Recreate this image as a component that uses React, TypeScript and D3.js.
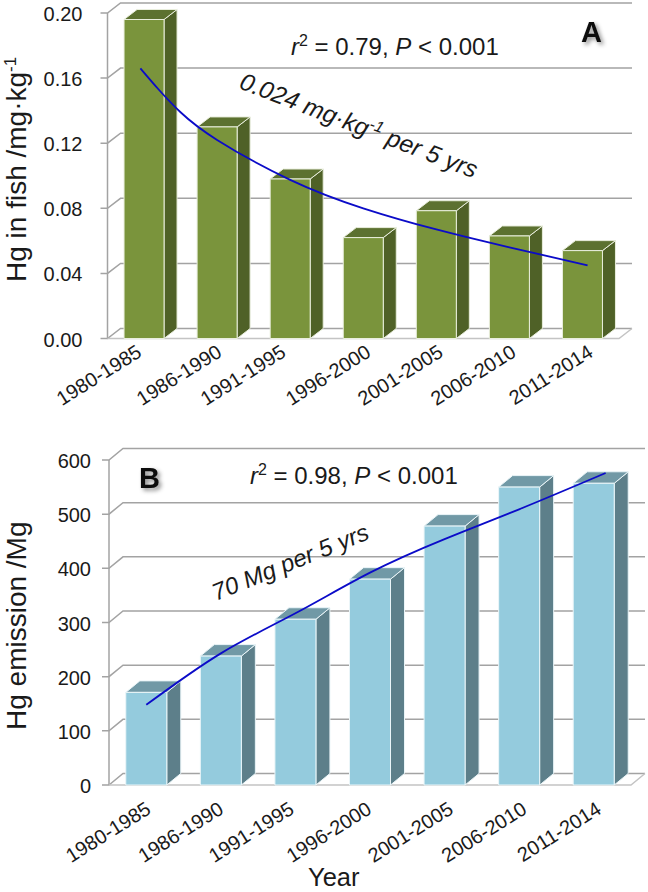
import React from 'react';
import * as d3 from 'd3';

const periods = ['1980-1985', '1986-1990', '1991-1995', '1996-2000', '2001-2005', '2006-2010', '2011-2014'];

const fishValues = [0.196, 0.13, 0.098, 0.062, 0.0785, 0.063, 0.054];
const fishTicks = [0, 0.04, 0.08, 0.12, 0.16, 0.2];
const fishTrendPos = [-0.05, 0.2, 0.5, 1, 2, 3, 4, 5, 6.07];
const fishTrend = [0.166, 0.153, 0.139, 0.122, 0.0975, 0.08, 0.067, 0.056, 0.045];

const emissionValues = [171, 238, 306, 380, 478, 550, 557];
const emissionTicks = [0, 100, 200, 300, 400, 500, 600];
const emissionTrendPos = [0, 1, 2, 3, 4, 5, 6.16];
const emissionTrend = [148, 243, 317, 392, 454, 509, 576];

// the tick labels in the figure were placed by hand, so they are not evenly spaced
const fishLabelShift = [-1, 6, -3, 9, 8, 8, 12];
const emissionLabelShift = [6, 4, 0, 3, 10, 9, 9];

const gridColor = '#a3a3a3';
const textColor = '#1a1a1a';
const font = '"Liberation Sans", Arial, sans-serif';

interface PanelProps {
  values: number[];
  ticks: number[];
  trendPos: number[];
  trend: number[];
  domainMax: number;
  tickFormat: (v: number) => string;
  left: number;
  right: number;
  top: number;
  bottom: number;
  depthX: number;
  depthY: number;
  barWidth: number;
  front: string;
  topFace: string;
  side: string;
  edge: string;
  tickGap: number;
  labelShift: number[];
  labelDy: number;
}

const Panel: React.FC<PanelProps> = ({
  values, ticks, trendPos, trend, domainMax, tickFormat,
  left, right, top, bottom, depthX, depthY, barWidth,
  front, topFace, side, edge, tickGap, labelShift, labelDy
}) => {
  const y = d3.scaleLinear().domain([0, domainMax]).range([bottom, top]);
  const x = d3.scaleBand<string>().domain(periods).range([left, right]);
  const center = (i: number) => x(periods[0])! + x.bandwidth() * (i + 0.5);

  const trendLine = d3.line<number>()
    .x((_, i) => center(trendPos[i]))
    .y(d => y(d))
    .curve(d3.curveNatural);

  return (
    <g>
      {/* walls and grid */}
      {ticks.map(t => (
        <g key={t} stroke={gridColor} strokeWidth={1.5} fill="none">
          <path d={`M${left - 7},${y(t)}H${left}L${left + depthX},${y(t) - depthY}H${right + depthX}`} />
        </g>
      ))}
      <line x1={left} x2={left} y1={top} y2={bottom} stroke={gridColor} strokeWidth={1.5} />
      <path
        d={`M${left},${bottom}H${right}L${right + depthX},${bottom - depthY}`}
        stroke="#c4c4c4" strokeWidth={1.5} fill="none"
      />
      {ticks.map(t => (
        <text key={t} x={left - tickGap} y={y(t) + 8} textAnchor="end" fontSize={20} fill={textColor}>
          {tickFormat(t)}
        </text>
      ))}
      {/* bars */}
      {values.map((v, i) => {
        const x0 = center(i) - barWidth / 2;
        const x1 = x0 + barWidth;
        const yTop = y(v);
        return (
          <g key={periods[i]} stroke={edge} strokeWidth={1} strokeLinejoin="round">
            <path
              d={`M${x1},${yTop}L${x1 + depthX},${yTop - depthY}V${bottom - depthY}L${x1},${bottom}Z`}
              fill={side}
            />
            <path
              d={`M${x0},${yTop}L${x0 + depthX},${yTop - depthY}H${x1 + depthX}L${x1},${yTop}Z`}
              fill={topFace}
            />
            <rect x={x0} y={yTop} width={barWidth} height={bottom - yTop} fill={front} />
          </g>
        );
      })}
      <path d={trendLine(trend) ?? ''} fill="none" stroke="#0b0bc8" strokeWidth={1.8} />
      {periods.map((p, i) => (
        <text
          key={p}
          transform={`translate(${center(i) + labelShift[i]},${bottom + labelDy}) rotate(-32)`}
          textAnchor="end"
          fontSize={20}
          fill={textColor}
        >
          {p}
        </text>
      ))}
    </g>
  );
};

export default function App() {
  return (
    <svg
      width={648}
      height={892}
      viewBox="0 0 648 892"
      style={{ position: 'absolute', left: 0, top: 0, background: '#fff', fontFamily: font }}
    >
      <defs>
        <filter id="letterShadow" x="-30%" y="-30%" width="180%" height="180%">
          <feDropShadow dx={2.5} dy={2.5} stdDeviation={2} floodColor="#000" floodOpacity={0.45} />
        </filter>
      </defs>

      <Panel
        values={fishValues}
        ticks={fishTicks}
        trendPos={fishTrendPos}
        trend={fishTrend}
        domainMax={0.2}
        tickFormat={d3.format('.2f')}
        left={107.5}
        right={619}
        top={13}
        bottom={338.5}
        depthX={13}
        depthY={10}
        barWidth={40}
        front="#7a943c"
        topFace="#5c7130"
        side="#4f6127"
        edge="#e9eedd"
        tickGap={25}
        labelShift={fishLabelShift}
        labelDy={17}
      />
      <Panel
        values={emissionValues}
        ticks={emissionTicks}
        trendPos={emissionTrendPos}
        trend={emissionTrend}
        domainMax={600}
        tickFormat={d3.format('d')}
        left={109}
        right={631}
        top={460}
        bottom={785}
        depthX={14}
        depthY={11.5}
        barWidth={41}
        front="#94cbdd"
        topFace="#7199a6"
        side="#5d7f8a"
        edge="#eaf5f8"
        tickGap={18}
        labelShift={emissionLabelShift}
        labelDy={27.5}
      />

      {/* panel A text */}
      <text transform="translate(26,282) rotate(-90)" fontSize={28} fill={textColor}>
        Hg in fish /mg·kg<tspan dy={-10} fontSize={17}>-1</tspan>
      </text>
      <text x={291} y={55} fontSize={24} fill={textColor}>
        <tspan fontStyle="italic">r</tspan>
        <tspan dy={-9} fontSize={16}>2</tspan>
        <tspan dy={9}> = 0.79, </tspan>
        <tspan fontStyle="italic">P</tspan>
        <tspan> &lt; 0.001</tspan>
      </text>
      <text transform="translate(238,88) rotate(21)" fontSize={24.5} fontStyle="italic" fill={textColor}>
        0.024 mg·kg<tspan dy={-9} fontSize={16}>-1</tspan>
        <tspan dy={9}> per 5 yrs</tspan>
      </text>
      <text x={581} y={42} fontSize={29} fontWeight="bold" fill="#111" filter="url(#letterShadow)">A</text>

      {/* panel B text */}
      <text transform="translate(26,730) rotate(-90)" fontSize={28} fill={textColor}>
        Hg emission /Mg
      </text>
      <text x={250} y={484} fontSize={24} fill={textColor}>
        <tspan fontStyle="italic">r</tspan>
        <tspan dy={-9} fontSize={16}>2</tspan>
        <tspan dy={9}> = 0.98, </tspan>
        <tspan fontStyle="italic">P</tspan>
        <tspan> &lt; 0.001</tspan>
      </text>
      <text transform="translate(216,601) rotate(-22)" fontSize={24} fontStyle="italic" fill={textColor}>
        70 Mg per 5 yrs
      </text>
      <text x={139} y={488} fontSize={29} fontWeight="bold" fill="#111" filter="url(#letterShadow)">B</text>

      <text x={308} y={886} fontSize={25.5} fill={textColor}>Year</text>
    </svg>
  );
}
